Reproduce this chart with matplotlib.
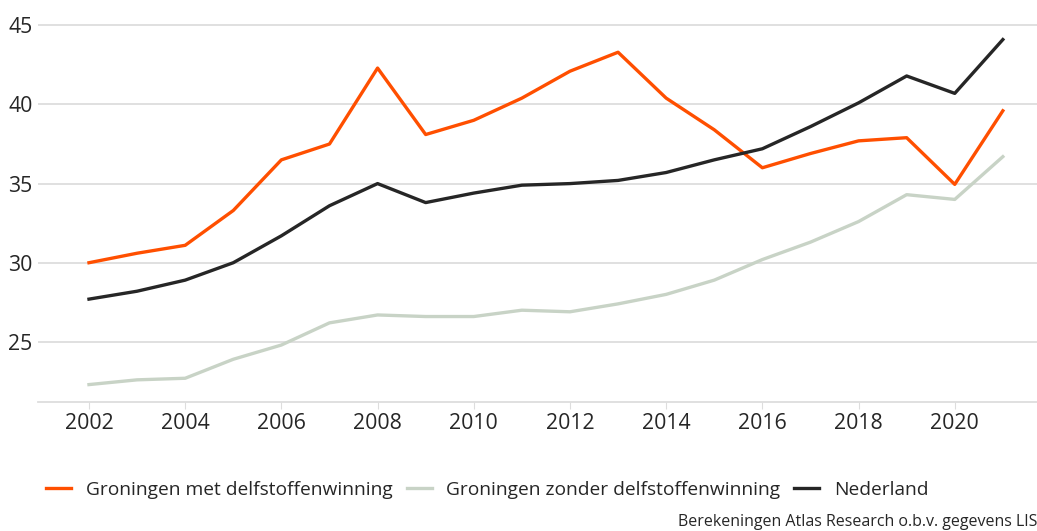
import matplotlib
matplotlib.use("Agg")
import matplotlib.pyplot as plt

years = list(range(2002, 2022))
met = [30.0, 30.6, 31.1, 33.3, 36.5, 37.5, 42.3, 38.1, 39.0, 40.4,
       42.1, 43.3, 40.4, 38.4, 36.0, 36.9, 37.7, 37.9, 34.95, 39.6]
zonder = [22.3, 22.6, 22.7, 23.9, 24.8, 26.2, 26.7, 26.6, 26.6, 27.0,
          26.9, 27.4, 28.0, 28.9, 30.2, 31.3, 32.6, 34.3, 34.0, 36.7]
nederland = [27.7, 28.2, 28.9, 30.0, 31.7, 33.6, 35.0, 33.8, 34.4, 34.9,
             35.0, 35.2, 35.7, 36.5, 37.2, 38.6, 40.1, 41.8, 40.7, 44.1]
labels = ["Groningen met delfstoffenwinning", "Groningen zonder delfstoffenwinning", "Nederland"]
colors = ["#ff4f00", "#c8d3c6", "#262626"]

plt.rcParams['font.family'] = ['Open Sans', 'DejaVu Sans']

fig = plt.figure(figsize=(10.37, 5.31), dpi=100)
ax = fig.add_axes([38 / 1037, 1 - 402 / 531, 999 / 1037, 402 / 531])

for vals, lab, c in zip([met, zonder, nederland], labels, colors):
    ax.plot(years, vals, color=c, lw=2.4, label=lab)

ax.set_xlim(2000.94, 2021.71)
ax.set_ylim(21.2, 46.6)
ax.set_yticks([25, 30, 35, 40, 45])
ax.set_xticks(range(2002, 2021, 2))
ax.grid(axis='y', color='#dddddd', lw=1.3)
ax.set_axisbelow(True)
for s in ['top', 'right', 'left']:
    ax.spines[s].set_visible(False)
ax.spines['bottom'].set_color('#dddddd')
ax.spines['bottom'].set_linewidth(1.3)
ax.tick_params(axis='y', length=0, pad=4, labelsize=15.3, labelcolor='#262626')
ax.tick_params(axis='x', length=5, color='#dddddd', pad=3, labelsize=15.3, labelcolor='#262626')

fig.legend(loc='center left', bbox_to_anchor=(29 / 1037, 1 - 490 / 531), ncol=3, frameon=False,
           fontsize=13.8, handlelength=1.3, handletextpad=0.75, columnspacing=0.75,
           labelcolor='#262626')
fig.text(1.0, 1 - 522 / 531, "Berekeningen Atlas Research o.b.v. gegevens LIS", ha='right', va='center',
         fontsize=11.5, color='#262626')

fig.savefig('out.png', dpi=100)
